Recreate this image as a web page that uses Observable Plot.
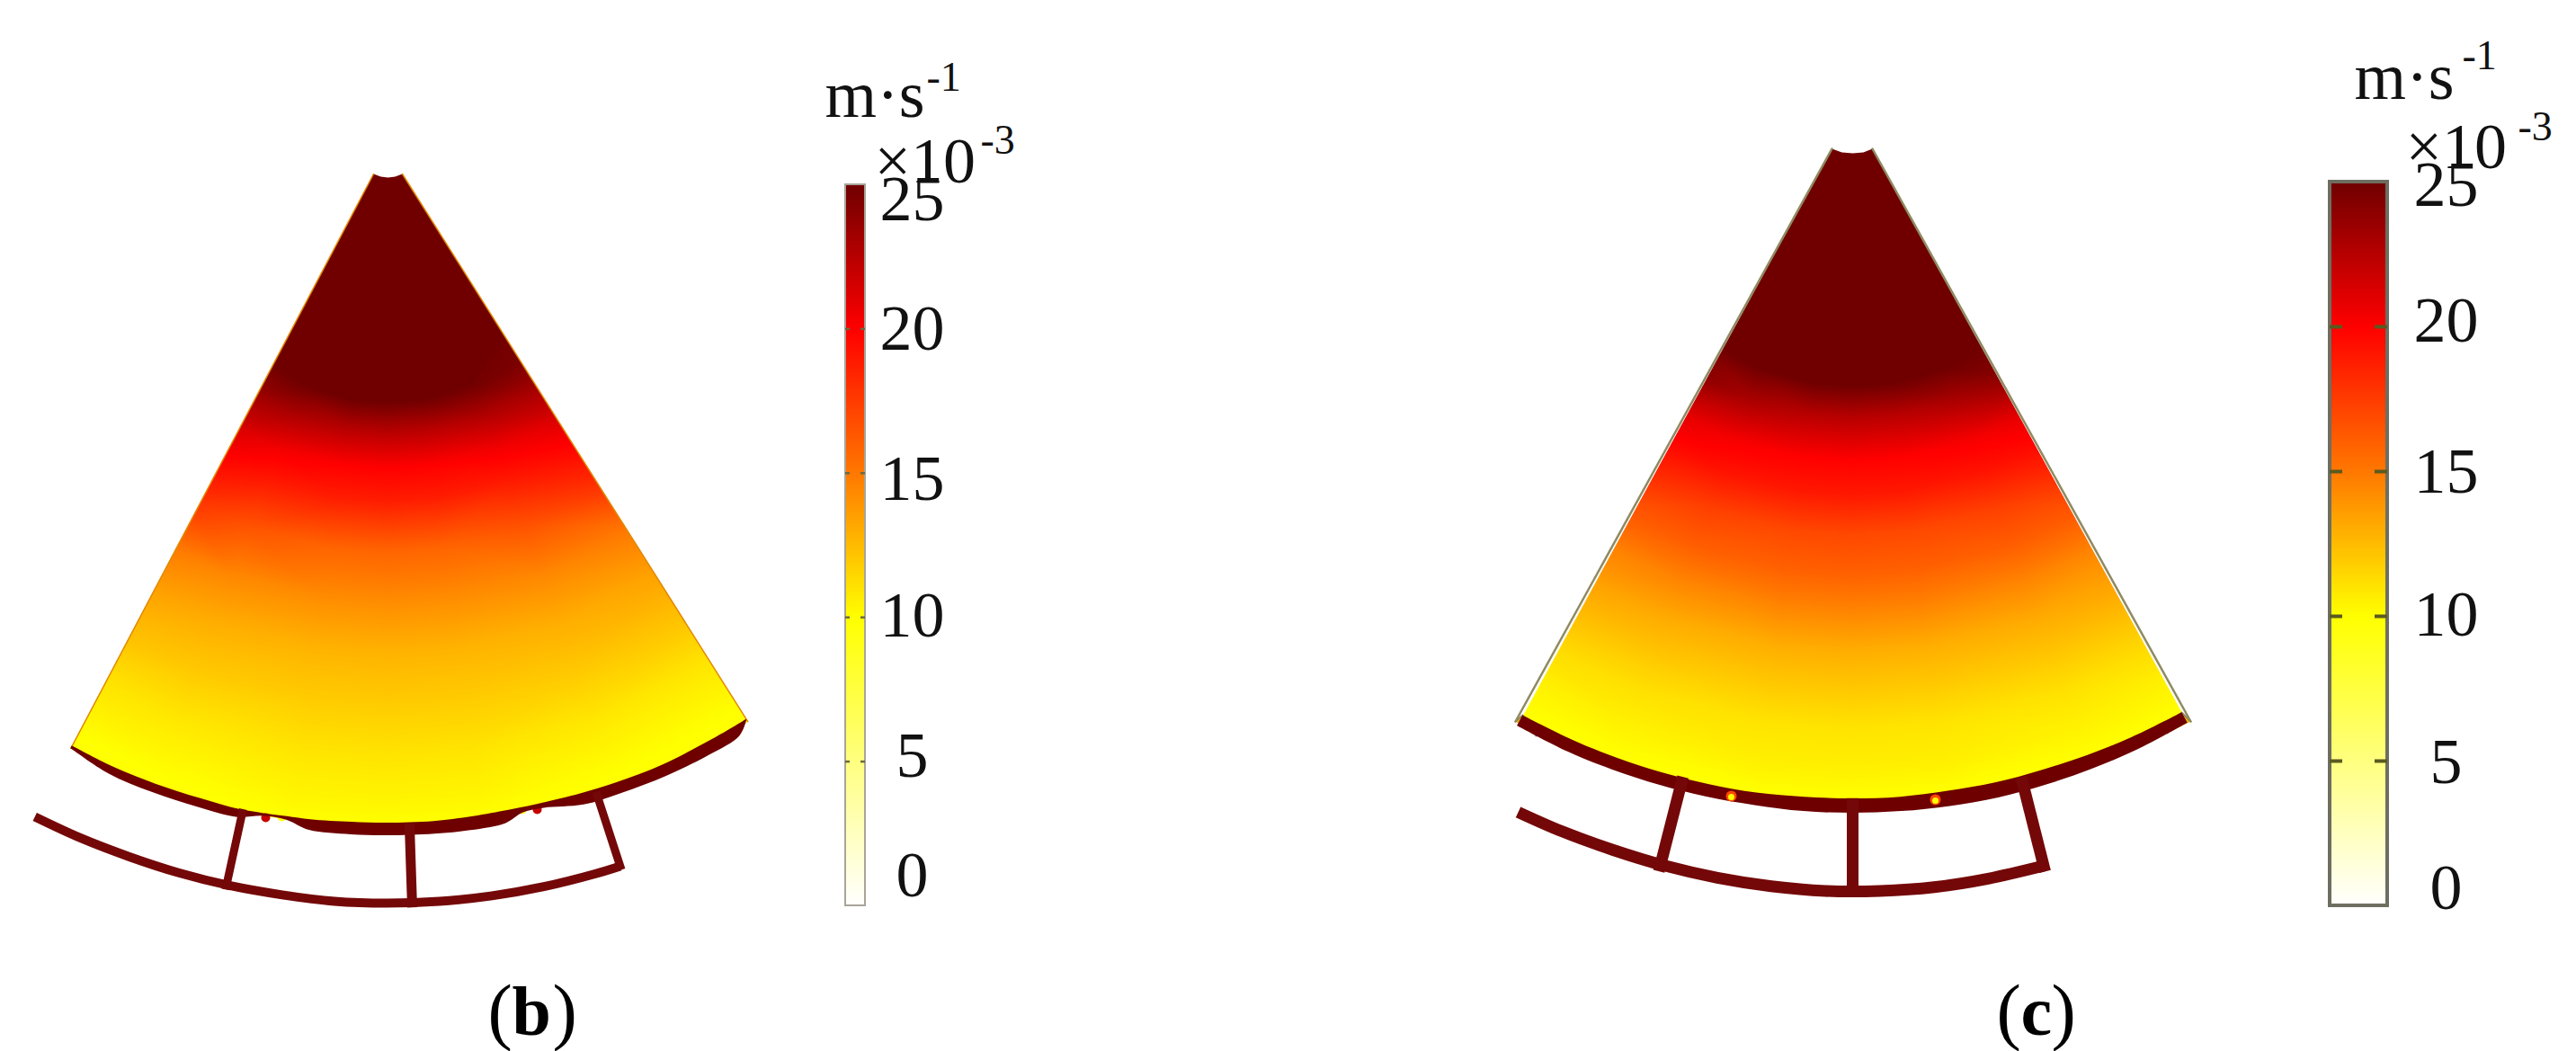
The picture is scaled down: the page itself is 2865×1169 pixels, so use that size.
<!DOCTYPE html>
<html><head><meta charset="utf-8">
<script src="https://cdn.jsdelivr.net/npm/d3@7"></script>
<script src="https://cdn.jsdelivr.net/npm/@observablehq/plot@0.6"></script>
<style>
html,body{margin:0;padding:0;background:#fff}
#page{position:relative;width:2865px;height:1169px;overflow:hidden}
#page svg{position:absolute;display:block}
</style></head><body><div id="page"></div>
<script>
const SERIF = "'Liberation Serif','Times New Roman',serif";
// velocity colour table (x10^-3 m/s)
const colorDomain = [0, 5, 10, 15, 20, 25];
const colorRange = ["#ffffff", "#ffff80", "#ffff00", "#ff7800", "#ff0000", "#700000"];
const colorbarTicks = [0, 5, 10, 15, 20, 25];

// panel (b): velocity read along rays from the sector apex
const apexB = [430, 165];
const raysB = [-30, -20, -8, 0, 8, 20, 34];
const radiiB = [60, 240, 282, 315, 355, 392, 448, 505, 561, 618, 674, 740, 790];
const edgeB = [26, 25, 24.5, 23.2, 21.4, 20, 18, 15, 13.5, 12.3, 11, 10, 9.5];
const midB = [27, 26.5, 24.8, 22.8, 20.4, 19, 16.5, 14.4, 13, 12, 10.9, 10, 9.5];
const centerB = [27, 27, 25, 22.5, 20, 18.8, 15.8, 14.2, 12.8, 11.9, 11, 10.2, 9.5];
const notchB = [[415,193],[423,196],[431,197],[439,196],[447,193]];
const bandAnglesB = [-27.8,-24,-20,-16,-12.6,-10.5,-8.5,-6.5,-3,0,4,7,10,11.6,13.4,16.7,20,24,28,31,32.2];
const bandTopB = [751,752,752,752,753,752,751,751,750,750,750,749,748,748,748,749,750,751,750,750,750];
const bandBottomB = [754,761,762,762,762,755,755,763,764,764,764,764,762,754,754,762,763,764,764,762,751];
const arcAnglesB = [-27.8,-24,-20,-16,-12,-8,-4,0,4,8,12,16,18];
const arcRadiiB = [840,839,838,838,838,838,839,839,839,839,839,839,839];
const strutAnglesB = [-12.3, 1.9, 18];
const strutWidthsB = [9, 11, 9];
const spotsB = [[295,909,22,5],[313,908,10,5],[597,900,22,5],[580,900,10,5]];

// panel (c)
const apexC = [2060, 123];
const raysC = [-31, -20, -8, 0, 8, 20, 31];
const radiiC = [60, 270, 306, 341, 388, 427, 471, 514, 557, 601, 644, 687, 729, 765, 800];
const edgeC = [26, 25.5, 24.8, 24.1, 21, 19.7, 18, 16.3, 14.6, 13.5, 12.4, 11.3, 10.5, 10, 9.8];
const midC = [27, 26.5, 24.9, 23, 20.3, 19.2, 17.3, 16.1, 14.5, 13.1, 12.1, 11.1, 10.5, 10, 9.7];
const centerC = [27, 27, 25, 22.5, 20, 19, 17, 16, 14.5, 13, 12, 11, 10.6, 10, 9.6];
const notchC = [[2037,165],[2048,169],[2060,170],[2072,169],[2082,165]];
const bandAnglesC = [-28.6,-24,-20,-16,-12,-8,-4,0,4,8,12,16,20,24,28.7];
const bandTopC = [766,766,766,766,766,766,765,765,765,764,764,763,763,763,763];
const bandBottomC = [779,780,780,780,780,780,781,781,781,781,781,780,779,778,776];
const arcAnglesC = [-25.5,-22,-18,-14,-10,-6,-2,2,6,10,14.2];
const arcRadiiC = [864,864,864,865,866,867,868,868,868,867,866];
const strutAnglesC = [-14.3, 0, 14.2];
const strutWidthsC = [13, 13, 13];
const spotsC = [[1925,885,17,6],[1925,886,10,3.5],[2152,889,17,6],[2152,890,10,3.5]];
const cornersC = [[[1685,802],[1693,795],[1708,818]],[[2436,802],[2426,792],[2410,815]]];

// texts
const unitTexts = [
  {x:917,y:108,s:74,t:"m·s"},{x:1030,y:87,s:46,t:"-1"},{x:972,y:182,s:72,t:"×10"},{x:1090,y:157,s:46,t:"-3"},
  {x:2618,y:88,s:74,t:"m·s"},{x:2738,y:63,s:46,t:"-1"},{x:2675,y:166,s:72,t:"×10"},{x:2800,y:142,s:46,t:"-3"}
];
const captionParens = [{x:542,t:"("},{x:614,t:")"},{x:2220,t:"("},{x:2281,t:")"}];
const captionLetters = [{x:569,t:"b"},{x:2247,t:"c"}];
const labelSpotsB = [1.06, 5.2, 10.06, 14.8, 20, 24.5];
const labelSpotsC = [0.6, 4.94, 10.06, 15, 20.2, 24.9];

const colorScale = {type:"linear", domain:colorDomain, range:colorRange, clamp:true, legend:false};

const rad = a => a*Math.PI/180;
const px = (apex,a,r) => apex[0]+r*Math.sin(rad(a));
const py = (apex,a,r) => apex[1]+r*Math.cos(rad(a));
function samples(apex, rays, radii, cols){
  const out = [];
  rays.forEach((a,i)=>radii.forEach((r,j)=>out.push({x:px(apex,a,r), y:py(apex,a,r), v:cols[i][j]})));
  return out;
}
let clipN = 0;
const clipTo = poly => function(index, scales, values, dims, ctx, next){
  const g = next(index, scales, values, dims, ctx);
  const ns = "http://www.w3.org/2000/svg", id = "sector-clip-" + (++clipN);
  const cp = document.createElementNS(ns, "clipPath"); cp.setAttribute("id", id);
  const pg = document.createElementNS(ns, "polygon");
  pg.setAttribute("points", poly.map(p=>scales.x(p[0])+","+scales.y(p[1])).join(" "));
  cp.appendChild(pg); g.appendChild(cp);
  g.setAttribute("clip-path", "url(#"+id+")");
  return g;
};
const X = d=>d[0], Y = d=>d[1];
function panelMarks(o){
  const n = o.bandAngles.length;
  const arcTop = o.bandAngles.map((a,i)=>[px(o.apex,a,o.bandTop[i]+3),py(o.apex,a,o.bandTop[i]+3)]);
  const clipPoly = o.notch.concat(arcTop.slice().reverse());
  const band = o.bandAngles.map((a,i)=>({x1:px(o.apex,a,o.bandTop[i]),y1:py(o.apex,a,o.bandTop[i]),x2:px(o.apex,a,o.bandBottom[i]),y2:py(o.apex,a,o.bandBottom[i])}));
  const arc = o.arcAngles.map((a,i)=>[px(o.apex,a,o.arcRadii[i]),py(o.apex,a,o.arcRadii[i])]);
  const meanArc = d3.mean(o.arcRadii);
  const struts = o.strutAngles.map((a,i)=>({w:o.strutWidths[i],p:[[px(o.apex,a,d3.mean(o.bandTop)+6),py(o.apex,a,d3.mean(o.bandTop)+6)],[px(o.apex,a,meanArc),py(o.apex,a,meanArc)]]}));
  const leftEnd = o.corners?o.corners[0][0]:arcTop[0];
  const rightEnd = o.corners?o.corners[1][0]:arcTop[n-1];
  return [
    Plot.raster(samples(o.apex,o.rays,o.radii,o.cols),{x:"x",y:"y",fill:"v",x1:o.x1,x2:o.x2,y1:0,y2:1169,interpolate:"barycentric",render:clipTo(clipPoly)}),
    (o.corners||[]).map(c=>Plot.line(c,{x:X,y:Y,fill:"#e8b400",stroke:"#8f8a62",strokeWidth:2})),
    Plot.line([leftEnd,o.notch[0]],{x:X,y:Y,stroke:o.edge,strokeWidth:o.edgeW}),
    Plot.line([o.notch[4],rightEnd],{x:X,y:Y,stroke:o.edge,strokeWidth:o.edgeW}),
    o.overSpots?null:Plot.dot(o.spots,{x:d=>d[0],y:d=>d[1],fill:d=>d[2],r:d=>d[3],stroke:"none"}),
    Plot.area(band,{x1:"x1",y1:"y1",x2:"x2",y2:"y2",fill:"#6e0000",curve:"catmull-rom"}),
    o.overSpots?Plot.dot(o.spots,{x:d=>d[0],y:d=>d[1],fill:d=>d[2],r:d=>d[3],stroke:"none"}):null,
    Plot.line(arc,{x:X,y:Y,stroke:"#740808",strokeWidth:o.arcW,curve:"catmull-rom",strokeLinecap:"butt"}),
    struts.map(s=>Plot.line(s.p,{x:X,y:Y,stroke:"#740808",strokeWidth:s.w,strokeLinecap:"square"}))
  ];
}

const main = Plot.plot({
  width:2865, height:1169, margin:0,
  x:{domain:[0,2865],range:[0,2865],axis:null},
  y:{domain:[0,1169],range:[0,1169],axis:null},
  r:{type:"identity"},
  color:colorScale,
  style:{background:"#fff"},
  marks:[
    panelMarks({apex:apexB,rays:raysB,radii:radiiB,cols:[edgeB,midB,centerB,centerB,centerB,midB,edgeB],x1:0,x2:900,notch:notchB,bandAngles:bandAnglesB,bandTop:bandTopB,bandBottom:bandBottomB,arcAngles:arcAnglesB,arcRadii:arcRadiiB,strutAngles:strutAnglesB,strutWidths:strutWidthsB,spots:spotsB,edge:"#e08a00",edgeW:1.5,arcW:10}),
    panelMarks({apex:apexC,rays:raysC,radii:radiiC,cols:[edgeC,midC,centerC,centerC,centerC,midC,edgeC],x1:1600,x2:2500,notch:notchC,bandAngles:bandAnglesC,bandTop:bandTopC,bandBottom:bandBottomC,arcAngles:arcAnglesC,arcRadii:arcRadiiC,strutAngles:strutAnglesC,strutWidths:strutWidthsC,spots:spotsC,corners:cornersC,edge:"#8f8a62",edgeW:2.5,arcW:13,overSpots:true}),
    Plot.text(unitTexts,{x:"x",y:d=>d.y+0.29*d.s,text:"t",fontSize:d=>d.s,lineAnchor:"bottom",textAnchor:"start",fontFamily:SERIF,fill:"#111"}),
    Plot.text(captionParens,{x:"x",y:1128+0.29*82,text:"t",fontSize:82,lineAnchor:"bottom",textAnchor:"start",fontFamily:SERIF,fill:"#000"}),
    Plot.text(captionLetters,{x:"x",y:1128+0.29*78,text:"t",fontSize:78,fontWeight:"bold",lineAnchor:"bottom",textAnchor:"start",fontFamily:SERIF,fill:"#000"})
  ]
});
main.style.left="0";main.style.top="0";
document.getElementById("page").appendChild(main);

function colorbar(o){
  const p = Plot.plot({
    width:o.x2-o.x1, height:1169, marginLeft:0, marginRight:0, marginTop:o.top, marginBottom:1169-o.bottom,
    x:{domain:[o.x1,o.x2],axis:null},
    y:{domain:[0,25],axis:null},
    color:colorScale,
    style:{background:"transparent",overflow:"visible"},
    marks:[
      Plot.raster({fill:(x,y)=>y,x1:o.barL,x2:o.barR,y1:0,y2:25,pixelSize:1}),
      Plot.rect([0],{x1:o.barL,x2:o.barR,y1:0,y2:25,fill:"none",stroke:o.border,strokeWidth:o.borderW}),
      Plot.ruleY(colorbarTicks.slice(1,5),{x1:o.barL,x2:o.barL+o.tick,stroke:o.tickColor,strokeWidth:o.tickW}),
      Plot.ruleY(colorbarTicks.slice(1,5),{x1:o.barR-o.tick,x2:o.barR,stroke:o.tickColor,strokeWidth:o.tickW}),
      Plot.text(colorbarTicks,{x:o.labelX,y:(d,i)=>o.spots[i],text:d=>String(d),fontSize:72,fontFamily:SERIF,fill:"#111",textAnchor:"middle",lineAnchor:"middle"})
    ]
  });
  p.style.left=o.x1+"px";p.style.top="0";
  document.getElementById("page").appendChild(p);
}
colorbar({x1:920,x2:1100,top:205,bottom:1007,barL:940,barR:962,border:"#a8a49a",borderW:2,tick:5,tickColor:"#6a6a40",tickW:2.5,labelX:1014,spots:labelSpotsB});
colorbar({x1:2570,x2:2800,top:202,bottom:1007,barL:2591,barR:2655,border:"#6e6e60",borderW:4,tick:14,tickColor:"#5a5a20",tickW:4,labelX:2720,spots:labelSpotsC});
</script></body></html>
